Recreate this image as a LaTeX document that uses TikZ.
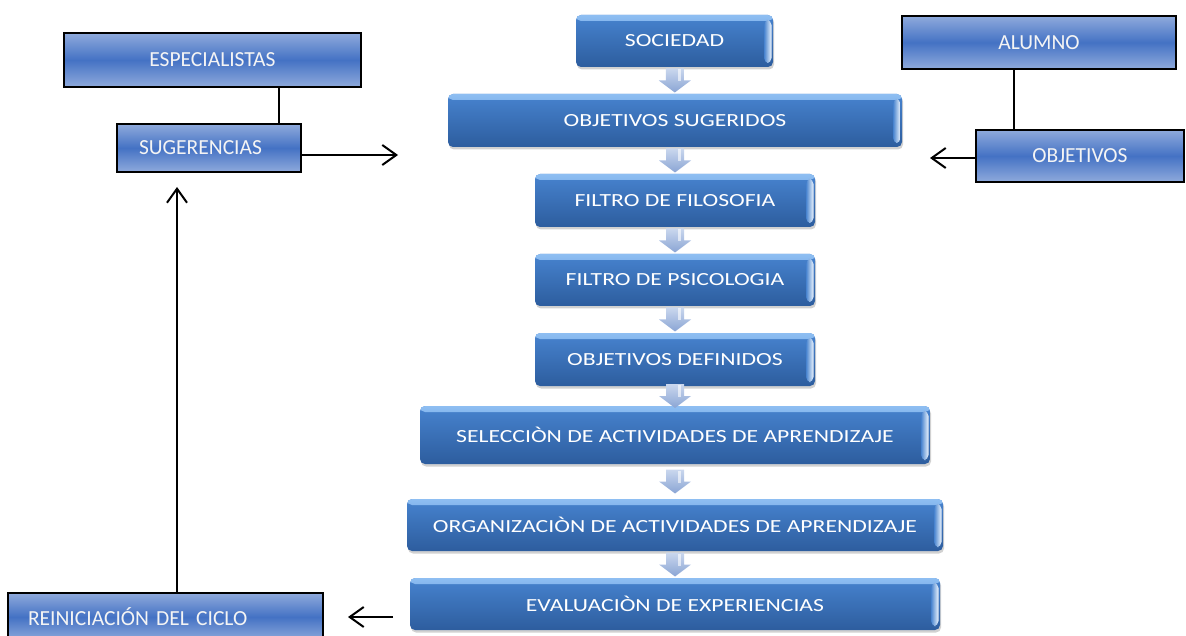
\documentclass[tikz,border=0pt]{standalone}
\usepackage{fontspec}
\setmainfont{Carlito}
\newfontfamily\widefont{Carlito}[FakeStretch=1.28]
\usetikzlibrary{arrows.meta,shadows,calc}
\definecolor{lbtop}{HTML}{8FAADC}
\definecolor{lbmid}{HTML}{4472C4}
\definecolor{cbtop}{HTML}{4783CF}
\definecolor{cbbot}{HTML}{2D5D9E}
\definecolor{cbhi}{HTML}{8EBEF2}
\definecolor{arrtop}{HTML}{CAD7EE}
\definecolor{arrbot}{HTML}{8AA5D4}
\definecolor{txt}{HTML}{F4F4F4}
\newcommand\downarr[2]{%
  \coordinate (m) at ($(#1.south)!0.5!(#2.north)$);
  \shade[top color=arrtop,bottom color=arrbot]
    ([xshift=-9pt,yshift=12pt]m) -- ([xshift=9pt,yshift=12pt]m) -- ([xshift=9pt]m)
    -- ([xshift=16pt]m) -- ([yshift=-12pt]m) -- ([xshift=-16pt]m) -- ([xshift=-9pt]m) -- cycle;
  \fill[white,opacity=0.6] ([xshift=3pt,yshift=11pt]m) rectangle ([xshift=6pt,yshift=-1pt]m);
}
\begin{document}
\begin{tikzpicture}[x=1pt,y=-1pt,
  lbox/.style={draw=black, line width=2pt, top color=lbtop, bottom color=lbtop, middle color=lbmid,
    text=txt, font=\fontsize{21.5}{25}\selectfont, inner sep=0pt},
  cbox/.style={rounded corners=5pt, top color=cbtop, bottom color=cbbot, text=white,
    font=\widefont\fontsize{18.5}{22}\selectfont, inner sep=0pt,
    drop shadow={shadow xshift=1pt, shadow yshift=-2.5pt, opacity=0.3, fill=black!60},
    path picture={
      \shade[top color=cbhi, bottom color=cbtop] (path picture bounding box.north west)
        rectangle ([yshift=-6pt]path picture bounding box.north east);
      \shade[left color=cbtop, right color=white!85!cbhi] ([xshift=-9pt,yshift=-5pt]path picture bounding box.north east)
        rectangle ([xshift=-1.5pt,yshift=4pt]path picture bounding box.south east);
    }},
  conn/.style={draw=black, line width=2pt},
  arw/.style={-{Straight Barb[length=14pt,width=20pt]}}]
\useasboundingbox (0,0) rectangle (1186,636);

% central column
\node[cbox, minimum width=197pt, minimum height=52pt] (soc) at (674.5,41) {SOCIEDAD};
\node[cbox, minimum width=454pt, minimum height=53pt] (sug) at (675,120.5) {OBJETIVOS SUGERIDOS};
\node[cbox, minimum width=280pt, minimum height=53pt] (fil) at (675,200.5) {FILTRO DE FILOSOFIA};
\node[cbox, minimum width=280pt, minimum height=52pt] (psi) at (675,280) {FILTRO DE PSICOLOGIA};
\node[cbox, minimum width=280pt, minimum height=53pt] (def) at (675,359.5) {OBJETIVOS DEFINIDOS};
\node[cbox, minimum width=510pt, minimum height=58pt] (sel) at (675,435) {SELECCIÒN DE ACTIVIDADES DE APRENDIZAJE};
\node[cbox, minimum width=536pt, minimum height=52pt] (org) at (675,525) {ORGANIZACIÒN DE ACTIVIDADES DE APRENDIZAJE};
\node[cbox, minimum width=530pt, minimum height=52pt] (eva) at (675,604) {EVALUACIÒN DE EXPERIENCIAS};

\downarr{soc}{sug}
\downarr{sug}{fil}
\downarr{fil}{psi}
\downarr{psi}{def}
\downarr{def}{sel}
\downarr{sel}{org}
\downarr{org}{eva}

% side boxes
\node[lbox, minimum width=297pt, minimum height=54pt] (esp) at (212.5,60) {ESPECIALISTAS};
\node[lbox, minimum height=48pt, text width=140pt, inner xsep=22pt, align=left] (sgr) at (209,148) {SUGERENCIAS};
\node[lbox, minimum width=274pt, minimum height=53pt] (alu) at (1039,42.5) {ALUMNO};
\node[lbox, minimum width=208pt, minimum height=52pt] (obj) at (1080,156) {OBJETIVOS};
\node[lbox, minimum height=48pt, text width=275pt, inner xsep=20pt, align=left] (rei) at (165.5,617) {REINICIACIÓN DEL CICLO};

% connectors
\draw[conn] ([xshift=70pt]sgr.north) -- ([xshift=70pt]sgr.north |- esp.south);
\coordinate (t1) at (398,155);
\draw[conn,arw] (sgr.east |- t1) -- (t1);
\draw[conn] ([xshift=-66pt]obj.north) -- ([xshift=-66pt]obj.north |- alu.south);
\coordinate (t2) at (930,158);
\draw[conn,arw] (obj.west |- t2) -- (t2);
\coordinate (t3) at (177,187);
\draw[conn,arw] (rei.north -| t3) -- (t3);
\coordinate (s4) at (393,617);
\coordinate (t4) at (348,617);
\draw[conn,arw] (s4) -- (t4);
\end{tikzpicture}
\end{document}
